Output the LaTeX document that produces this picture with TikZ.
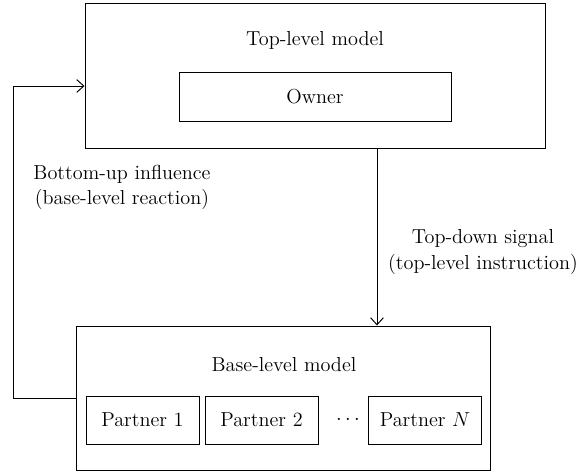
\documentclass[tikz,border=0pt]{standalone}
\usetikzlibrary{arrows.meta}
\begin{document}
\begin{tikzpicture}[font=\Large, line width=0.7pt,
  >={Straight Barb[length=5pt,width=9pt]},
  modelbox/.style={draw, minimum width=#1, inner sep=0pt},
  partnerbox/.style={draw, minimum width=2.825cm, minimum height=1.2cm, inner sep=0pt}]
\useasboundingbox (0,0) rectangle (14.525,11.8);
\node[modelbox=11.5cm, minimum height=3.625cm] (top) at (7.875,9.9125){};
\node[align=center] (toplabel) at (7.875,10.8){Top-level model};
\node[modelbox=6.8cm, minimum height=1.225cm] (owner) at (7.875,9.3875){Owner};
\node[modelbox=10.35cm, minimum height=3.6cm] (base) at (7.075,1.85){};
\node[align=center] (baselabel) at (7.1,2.675){Base-level model};
\node[partnerbox] (p1) at (3.5625,1.3){Partner 1};
\node[partnerbox] (p2) at (6.5375,1.3){Partner 2};
\node (dots) at (8.7,1.3){$\cdots$};
\node[partnerbox] (pN) at (10.625,1.3){Partner $N$};
\coordinate (down) at (9.425,0);
\coordinate (up) at (0.33,0);
\coordinate (in) at (0,9.65);
\draw[->] (top.south -| down) -- (base.north -| down);
\draw[->] (base.west) -| (up |- in) -- (top.west |- in);
\node[align=center] (bu) at (3.05,7.1125){Bottom-up influence\\(base-level reaction)};
\node[align=center] (td) at (12.075,5.5){Top-down signal\\(top-level instruction)};
\end{tikzpicture}
\end{document}
